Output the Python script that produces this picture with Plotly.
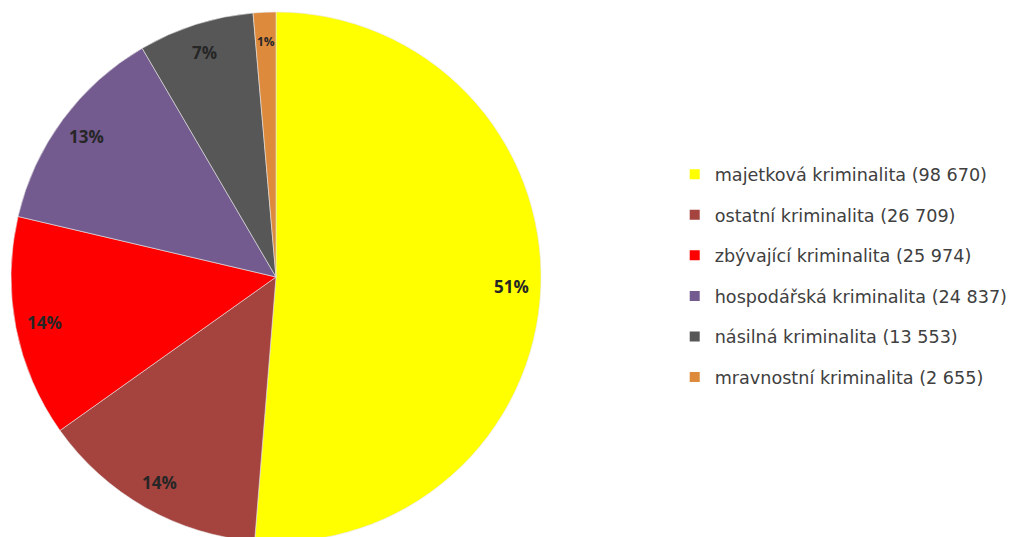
import math
import plotly.graph_objects as go

# crime categories and counts
categories = [
    "majetková kriminalita",
    "ostatní kriminalita",
    "zbývající kriminalita",
    "hospodářská kriminalita",
    "násilná kriminalita",
    "mravnostní kriminalita",
]
counts = [98670, 26709, 25974, 24837, 13553, 2655]
colors = ["#FFFF00", "#A5443F", "#FF0000", "#735A8F", "#575757", "#DD8A3C"]

W, H = 1021, 537
total = sum(counts)

# pie placement (paper fractions)
dom_x = [3 / W, 533 / W]
dom_y = [3 / H, 1 - 4 / H]

fig = go.Figure()

fig.add_trace(go.Pie(
    labels=categories,
    values=counts,
    sort=False,
    direction="clockwise",
    rotation=0,
    marker=dict(colors=colors, line=dict(color="#e6e6e6", width=0.6)),
    textinfo="none",
    hoverinfo="label+value+percent",
    showlegend=False,
    domain=dict(x=dom_x, y=dom_y),
))

# legend entries: one dummy trace per category so the rows can be spaced out
for name, val, col in zip(categories, counts, colors):
    label = f"{name} ({val:,})".replace(",", " ")
    fig.add_trace(go.Scatter(
        x=[None], y=[None], mode="markers",
        marker=dict(symbol="square", size=10, color=col),
        name=label, legendgroup=label, showlegend=True,
    ))

# percentage labels placed near the outer edge of each slice
cx = (dom_x[0] + dom_x[1]) / 2
cy = (dom_y[0] + dom_y[1]) / 2
R = min((dom_x[1] - dom_x[0]) * W, (dom_y[1] - dom_y[0]) * H) / 2
cum = 0
for val in counts:
    share = val / total
    mid = (cum + share / 2) * 2 * math.pi
    cum += share
    rr = 0.89 * R
    fig.add_annotation(
        x=cx + rr * math.sin(mid) / W,
        y=cy + rr * math.cos(mid) / H,
        xref="paper", yref="paper",
        xanchor="center", yanchor="middle",
        text=f"{round(share * 100)}%",
        showarrow=False,
        font=dict(family="Open Sans", size=12 if share < 0.02 else 17,
                  color="#262626", weight="bold"),
    )

fig.update_layout(
    width=W, height=H,
    margin=dict(l=0, r=0, t=0, b=0),
    paper_bgcolor="white",
    plot_bgcolor="white",
    xaxis=dict(visible=False),
    yaxis=dict(visible=False),
    legend=dict(
        x=0.653, y=0.724, xanchor="left", yanchor="top",
        traceorder="grouped", tracegroupgap=14.7,
        font=dict(family="DejaVu Sans", size=17.6, color="#404040"),
        itemclick=False,
    ),
    showlegend=True,
)

fig.write_html("out.html")
